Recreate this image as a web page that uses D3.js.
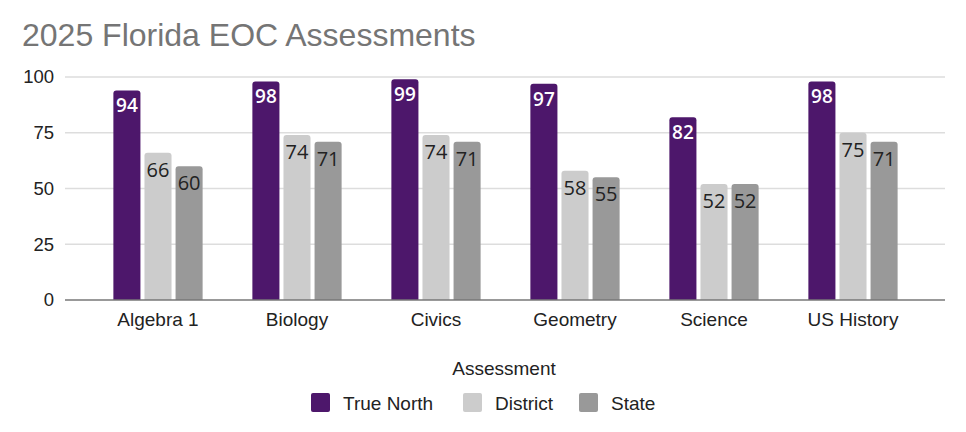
<!DOCTYPE html>
<html><head><meta charset="utf-8">
<script src="https://cdn.jsdelivr.net/npm/d3@7"></script>
<style>body{margin:0;background:#fff}svg{display:block}</style>
</head><body><svg id="c" width="966" height="432"></svg>
<script>
const categories = ["Algebra 1","Biology","Civics","Geometry","Science","US History"];
const seriesNames = ["True North","District","State"];
const trueNorth = [94,98,99,97,82,98];
const district = [66,74,74,58,52,75];
const state = [60,71,71,55,52,71];
const yTicks = [0,25,50,75,100];
const colors = ["#4d176b","#cccccc","#999999"];

const seriesVals = [trueNorth, district, state];
const svg = d3.select("#c");
const font = "Arial, 'Liberation Sans', sans-serif";

svg.append("text").attr("x",22).attr("y",46).text("2025 Florida EOC Assessments")
  .attr("font-family",font).attr("font-size",32).attr("fill","#757575");

const y = d3.scaleLinear().domain([0,100]).range([300,77]);
const x0 = d3.scaleBand().domain(categories).range([88.5,922.5]).paddingInner(0).paddingOuter(0);
const x1 = d3.scaleBand().domain(seriesNames).range([0,x0.bandwidth()]).paddingInner(0.13).paddingOuter(0.8);

// gridlines
svg.append("g").selectAll("line").data(yTicks.filter(d=>d>0)).join("line")
  .attr("x1",65).attr("x2",945).attr("y1",d=>y(d)).attr("y2",d=>y(d))
  .attr("stroke","#dddddd").attr("stroke-width",1.5);
// y labels
svg.append("g").selectAll("text").data(yTicks).join("text")
  .attr("x",54).attr("y",d=>y(d)).attr("dy","0.35em").attr("text-anchor","end")
  .attr("font-family",font).attr("font-size",18.5).attr("fill","#222").text(d=>d);

// bars
const rows = [];
categories.forEach((c,i)=>seriesNames.forEach((s,j)=>rows.push({c,s,j,v:seriesVals[j][i]})));
function roundTop(x,yv,w,h,r){
  return `M${x},${yv+h}V${yv+r}Q${x},${yv} ${x+r},${yv}H${x+w-r}Q${x+w},${yv} ${x+w},${yv+r}V${yv+h}Z`;
}
svg.append("g").selectAll("path").data(rows).join("path")
  .attr("d",d=>{const bx=x0(d.c)+x1(d.s);const by=y(d.v);return roundTop(bx,by,x1.bandwidth(),y(0)-by,3);})
  .attr("fill",d=>colors[d.j]);
svg.append("g").selectAll("text").data(rows).join("text")
  .attr("x",d=>x0(d.c)+x1(d.s)+x1.bandwidth()/2)
  .attr("y",d=>y(d.v)+(d.j===0?22:24))
  .attr("text-anchor","middle")
  .attr("font-family","'Open Sans', 'Noto Sans', sans-serif")
  .attr("font-size",d=>d.j===0?19:20)
  .attr("font-weight",d=>d.j===0?600:400)
  .attr("fill",d=>d.j===0?"#ffffff":"#222222")
  .text(d=>d.v);

// baseline
svg.append("line").attr("x1",65).attr("x2",945).attr("y1",y(0)).attr("y2",y(0))
  .attr("stroke","#777").attr("stroke-width",1.5);

// x labels
svg.append("g").selectAll("text").data(categories).join("text")
  .attr("x",d=>x0(d)+x0.bandwidth()/2).attr("y",326).attr("text-anchor","middle")
  .attr("font-family",font).attr("font-size",19).attr("fill","#222").text(d=>d);

// legend
svg.append("text").attr("x",504).attr("y",375).attr("text-anchor","middle")
  .attr("font-family",font).attr("font-size",19).attr("fill","#222").text("Assessment");
const lx = [311,463,579];
const lg = svg.append("g").selectAll("g").data(seriesNames).join("g")
  .attr("transform",(d,i)=>`translate(${lx[i]},393)`);
lg.append("rect").attr("width",19).attr("height",19).attr("rx",2).attr("fill",(d,i)=>colors[i]);
lg.append("text").attr("x",32).attr("y",10).attr("dy","0.35em")
  .attr("font-family",font).attr("font-size",19).attr("fill","#222").text(d=>d);
</script></body></html>
